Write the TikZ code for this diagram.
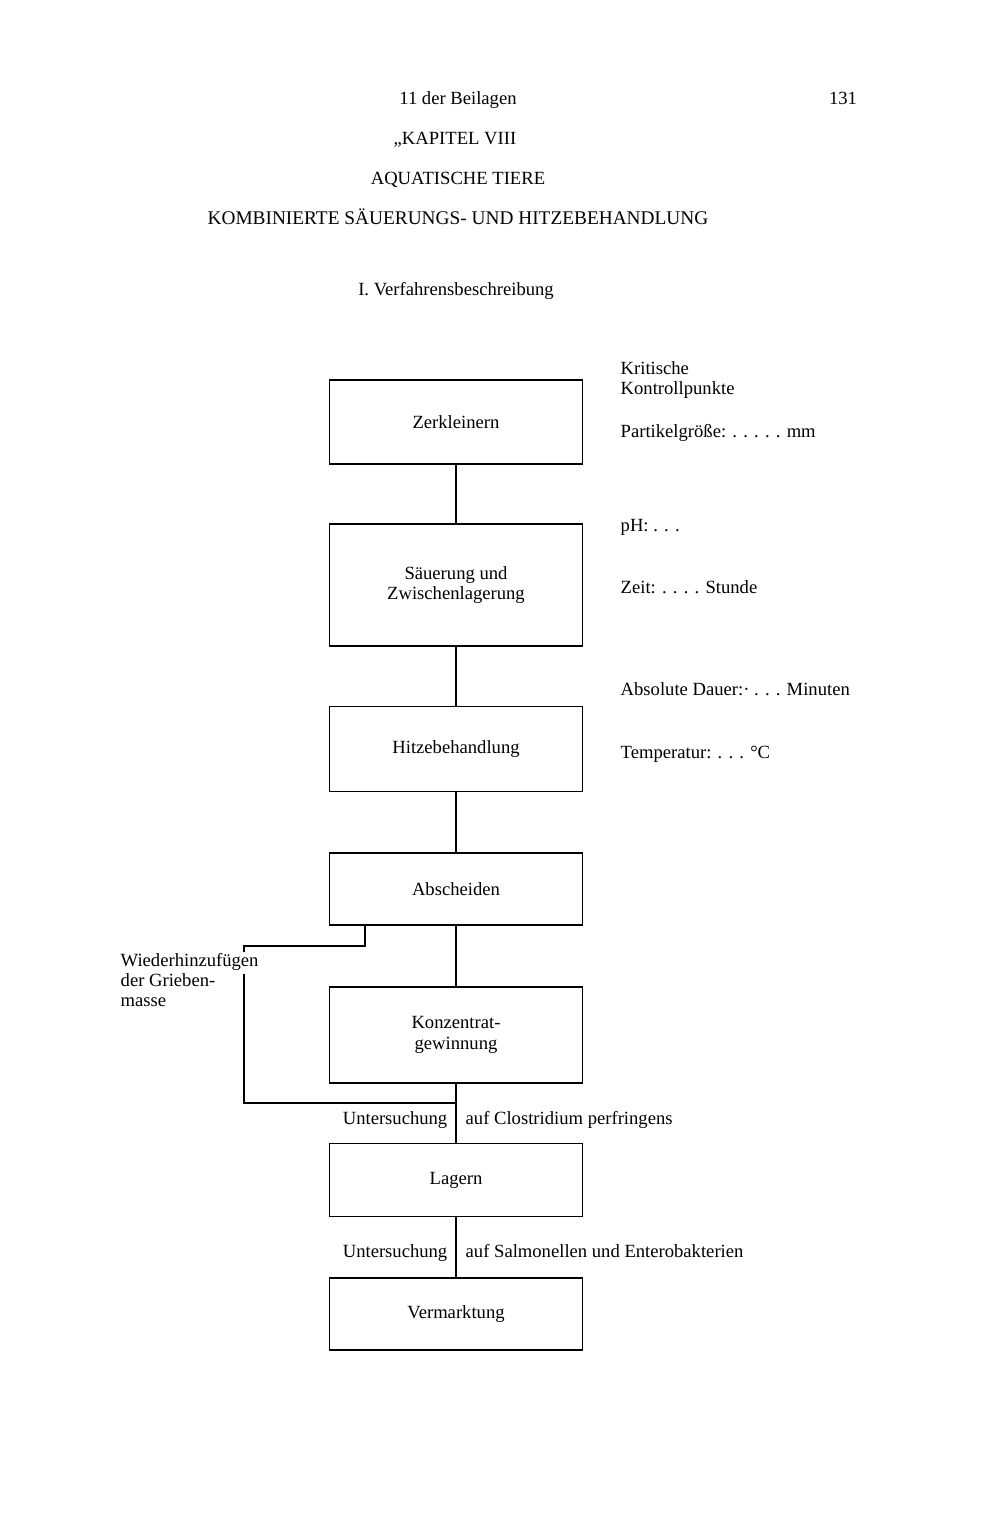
\documentclass[tikz,border=0pt]{standalone}
\usepackage{fontspec}
\setmainfont{Liberation Serif}
\begin{document}
\begin{tikzpicture}[x=0.02cm, y=-0.02cm, line width=0.8pt, line join=miter,
    font=\fontsize{10.6}{11.6}\selectfont,
    stepbox/.style={draw, minimum width=5.06cm, align=center, inner sep=2pt},
    crit/.style={anchor=west, inner sep=0pt, text height=1.6ex, text depth=0.4ex},
    critlines/.style={anchor=west, align=left, inner sep=0pt},
    note/.style={inner sep=0pt, text height=1.6ex, text depth=0.4ex}]
    \useasboundingbox (0,0) rectangle (994,1538);
    % Kopf der Seite
    \node[note] (beil) at (458,100) {11 der Beilagen};
    \node[note] (seite) at (843,100) {131};
    \node[note] (kap) at (455,140) {„KAPITEL VIII};
    \node[note] (aqua) at (458,180) {AQUATISCHE TIERE};
    \node[note, font=\fontsize{11}{12}\selectfont] (kombi) at (458,220) {KOMBINIERTE SÄUERUNGS- UND HITZEBEHANDLUNG};
    \node[note] (verf) at (456,291) {I. Verfahrensbeschreibung};
    % Verfahrensschritte
    \node[stepbox, minimum height=1.68cm] (zer) at (456,422) {Zerkleinern};
    \node[stepbox, minimum height=2.44cm] (sae) at (456,585) {Säuerung und\\Zwischenlagerung};
    \node[stepbox, minimum height=1.70cm] (hitze) at (456,749) {Hitzebehandlung};
    \node[stepbox, minimum height=1.44cm] (absch) at (456,889) {Abscheiden};
    \node[stepbox, minimum height=1.92cm] (konz) at (456,1035) {Konzentrat-\\gewinnung};
    \node[stepbox, minimum height=1.46cm] (lag) at (456,1180) {Lagern};
    \node[stepbox, minimum height=1.44cm] (verm) at (456,1314) {Vermarktung};
    \draw (zer) -- (sae);
    \draw (sae) -- (hitze);
    \draw (hitze) -- (absch);
    \draw (absch) -- (konz);
    \draw (konz) -- (lag);
    \draw (lag) -- (verm);
    % kritische Kontrollpunkte
    \node[critlines] (krit) at (620,380) {Kritische\\Kontrollpunkte};
    \node[crit] (part) at (620,433) {Partikelgröße: . . . . . mm};
    \node[crit] (ph) at (620,527) {pH: . . .};
    \node[crit] (zeit) at (620,589) {Zeit: . . . . Stunde};
    \node[crit] (dauer) at (620,691) {Absolute Dauer:· . . . Minuten};
    \node[crit] (temp) at (620,754) {Temperatur: . . . °C};
    % Rueckfuehrung der Griebenmasse
    \node[critlines] (wieder) at (120,980) {Wiederhinzufügen\\der Grieben-\\masse};
    \coordinate (r1) at (365,946);
    \coordinate (r2) at (244,946);
    \coordinate (r3) at (244,974);
    \coordinate (r4) at (244,1103);
    \draw (absch.south -| r1) -- (r1) -- (r2) -- ++(0,6);
    \draw (r3) -- (r4) -- (r4 -| konz.south);
    % Untersuchungen
    \node[note, anchor=east] (unt1) at (448,1120) {Untersuchung};
    \node[note, anchor=west] (clos) at (465,1120) {auf Clostridium perfringens};
    \node[note, anchor=east] (unt2) at (448,1253) {Untersuchung};
    \node[note, anchor=west] (salm) at (465,1253) {auf Salmonellen und Enterobakterien};
\end{tikzpicture}
\end{document}
